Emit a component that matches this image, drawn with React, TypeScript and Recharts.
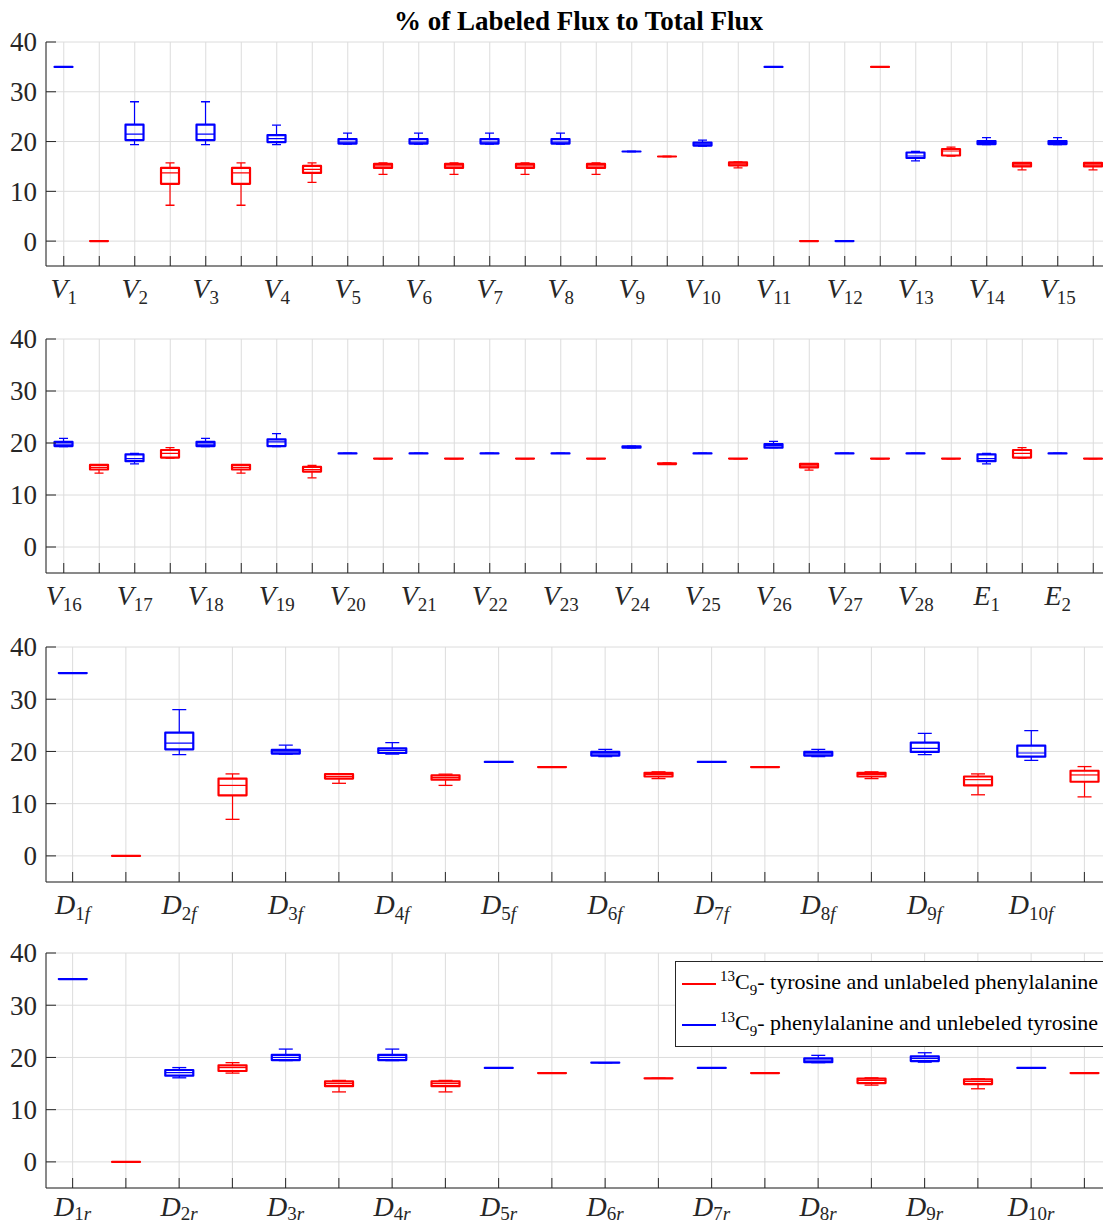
import { ComposedChart, Bar, XAxis, YAxis, CartesianGrid, Legend } from "recharts"

const BLUE = "#0000ff"
const RED = "#ff0000"
const INK = "#262626"
const GRID = "#dcdcdc"
const SERIF = '"Liberation Serif", "Times New Roman", serif'

const TITLE = "% of Labeled Flux to Total Flux"
const Y_TICKS = [0, 10, 20, 30, 40]
const Y_DOMAIN: [number, number] = [-5, 40]

// tick labels: first letter is the symbol, the rest goes into the subscript
const labels1 = ["V1", "V2", "V3", "V4", "V5", "V6", "V7", "V8", "V9", "V10", "V11", "V12", "V13", "V14", "V15"]
const labels2 = ["V16", "V17", "V18", "V19", "V20", "V21", "V22", "V23", "V24", "V25", "V26", "V27", "V28", "E1", "E2"]
const labels3 = ["D1f", "D2f", "D3f", "D4f", "D5f", "D6f", "D7f", "D8f", "D9f", "D10f"]
const labels4 = ["D1r", "D2r", "D3r", "D4r", "D5r", "D6r", "D7r", "D8r", "D9r", "D10r"]

// each box: [lower whisker, q1, median, q3, upper whisker]
const blue1 = [
  [35, 35, 35, 35, 35],
  [19.4, 20.3, 21.5, 23.4, 28],
  [19.4, 20.3, 21.5, 23.4, 28],
  [19.4, 19.9, 20.6, 21.3, 23.3],
  [19.5, 19.6, 19.9, 20.5, 21.7],
  [19.5, 19.6, 19.9, 20.5, 21.7],
  [19.5, 19.6, 19.9, 20.5, 21.7],
  [19.5, 19.6, 19.9, 20.5, 21.7],
  [18, 18, 18, 18, 18],
  [19.1, 19.2, 19.5, 19.8, 20.3],
  [35, 35, 35, 35, 35],
  [0, 0, 0, 0, 0],
  [16.1, 16.7, 17.1, 17.8, 18],
  [19.4, 19.5, 19.8, 20.1, 20.8],
  [19.4, 19.5, 19.8, 20.1, 20.8],
]
const red1 = [
  [0, 0, 0, 0, 0],
  [7.2, 11.5, 13.7, 14.7, 15.7],
  [7.2, 11.5, 13.7, 14.7, 15.7],
  [11.8, 13.7, 14.4, 15.1, 15.7],
  [13.4, 14.7, 15.1, 15.5, 15.7],
  [13.4, 14.7, 15.1, 15.5, 15.7],
  [13.4, 14.7, 15.1, 15.5, 15.7],
  [13.4, 14.7, 15.1, 15.5, 15.7],
  [17, 17, 17, 17, 17],
  [14.7, 15.2, 15.5, 15.8, 15.9],
  [0, 0, 0, 0, 0],
  [35, 35, 35, 35, 35],
  [17.1, 17.2, 18.1, 18.5, 18.9],
  [14.3, 15, 15.3, 15.7, 15.7],
  [14.3, 15, 15.3, 15.7, 15.7],
]

const blue2 = [
  [19.3, 19.4, 19.8, 20.2, 20.9],
  [16, 16.5, 17, 17.8, 18],
  [19.3, 19.4, 19.8, 20.2, 20.9],
  [19.3, 19.4, 20.2, 20.7, 21.8],
  [18, 18, 18, 18, 18],
  [18, 18, 18, 18, 18],
  [18, 18, 18, 18, 18],
  [18, 18, 18, 18, 18],
  [19.05, 19.1, 19.2, 19.35, 19.4],
  [18, 18, 18, 18, 18],
  [19.1, 19.1, 19.5, 19.8, 20.3],
  [18, 18, 18, 18, 18],
  [18, 18, 18, 18, 18],
  [16, 16.5, 17, 17.8, 18],
  [18, 18, 18, 18, 18],
]
const red2 = [
  [14.2, 14.9, 15.3, 15.8, 15.8],
  [17.1, 17.2, 18, 18.65, 19.1],
  [14.2, 14.9, 15.3, 15.8, 15.8],
  [13.3, 14.5, 14.9, 15.4, 15.7],
  [17, 17, 17, 17, 17],
  [17, 17, 17, 17, 17],
  [17, 17, 17, 17, 17],
  [17, 17, 17, 17, 17],
  [15.9, 15.95, 16, 16.1, 16.15],
  [17, 17, 17, 17, 17],
  [14.8, 15.3, 15.6, 16, 16],
  [17, 17, 17, 17, 17],
  [17, 17, 17, 17, 17],
  [17.1, 17.2, 18, 18.65, 19.1],
  [17, 17, 17, 17, 17],
]

const blue3 = [
  [35, 35, 35, 35, 35],
  [19.4, 20.4, 21.6, 23.6, 28],
  [19.5, 19.6, 19.9, 20.3, 21.2],
  [19.5, 19.7, 20.2, 20.6, 21.7],
  [18, 18, 18, 18, 18],
  [19, 19.2, 19.55, 19.9, 20.4],
  [18, 18, 18, 18, 18],
  [19, 19.2, 19.55, 19.9, 20.4],
  [19.4, 19.9, 20.6, 21.7, 23.45],
  [18.3, 19, 19.7, 21.1, 24],
]
const red3 = [
  [0, 0, 0, 0, 0],
  [7, 11.6, 13.5, 14.8, 15.7],
  [13.9, 14.8, 15.2, 15.65, 15.7],
  [13.5, 14.6, 15, 15.4, 15.65],
  [17, 17, 17, 17, 17],
  [14.8, 15.2, 15.6, 15.9, 16.1],
  [17, 17, 17, 17, 17],
  [14.8, 15.2, 15.6, 15.9, 16.1],
  [11.7, 13.5, 14.6, 15.2, 15.7],
  [11.3, 14.2, 15.5, 16.3, 17.1],
]

const blue4 = [
  [35, 35, 35, 35, 35],
  [16.1, 16.5, 17.1, 17.6, 18.06],
  [19.4, 19.5, 20, 20.5, 21.6],
  [19.4, 19.5, 20, 20.5, 21.6],
  [18, 18, 18, 18, 18],
  [19, 19, 19, 19, 19],
  [18, 18, 18, 18, 18],
  [19, 19.1, 19.5, 19.85, 20.4],
  [19.1, 19.3, 19.8, 20.2, 20.9],
  [18, 18, 18, 18, 18],
]
const red4 = [
  [0, 0, 0, 0, 0],
  [17, 17.4, 18.06, 18.5, 19],
  [13.4, 14.5, 15, 15.4, 15.6],
  [13.4, 14.5, 15, 15.4, 15.6],
  [17, 17, 17, 17, 17],
  [16, 16, 16, 16, 16],
  [17, 17, 17, 17, 17],
  [14.7, 15.1, 15.6, 15.95, 16.1],
  [14, 14.9, 15.4, 15.8, 15.9],
  [17, 17, 17, 17, 17],
]

const legendNames = ["- tyrosine and unlabeled phenylalanine", "- phenylalanine and unlebeled tyrosine"]
const legendColors = [RED, BLUE]

type Box = { pos: number; label: string; lo: number; q1: number; med: number; q3: number; hi: number; color: string }

function buildBoxes(labels: string[], blue: number[][], red: number[][]): Box[] {
  const out: Box[] = []
  labels.forEach((label, i) => {
    const b = blue[i]
    const r = red[i]
    out.push({ pos: 2 * i + 1, label, lo: b[0], q1: b[1], med: b[2], q3: b[3], hi: b[4], color: BLUE })
    out.push({ pos: 2 * i + 2, label: "", lo: r[0], q1: r[1], med: r[2], q3: r[3], hi: r[4], color: RED })
  })
  return out
}

// box drawn inside the bar that spans the whisker range
const BoxShape = (props: any) => {
  const { x, y, width, height, payload } = props
  const { lo, q1, med, q3, hi, color } = payload as Box
  const top = Math.min(y, y + height)
  const bottom = Math.max(y, y + height)
  const span = hi - lo
  const py = (v: number) => (span > 0 ? bottom - ((v - lo) / span) * (bottom - top) : top)
  const cx = x + width / 2
  const cap = width / 4
  const yq3 = py(q3)
  const yq1 = py(q1)
  return (
    <g>
      <line x1={cx} x2={cx} y1={py(hi)} y2={yq3} stroke={color} strokeWidth={1.2} />
      <line x1={cx} x2={cx} y1={yq1} y2={py(lo)} stroke={color} strokeWidth={1.2} />
      <line x1={cx - cap} x2={cx + cap} y1={py(hi)} y2={py(hi)} stroke={color} strokeWidth={1.3} />
      <line x1={cx - cap} x2={cx + cap} y1={py(lo)} y2={py(lo)} stroke={color} strokeWidth={1.3} />
      <path
        d={`M${x},${yq3}H${x + width}V${yq1}H${x}Z`}
        fill="none"
        stroke={color}
        strokeWidth={2.2}
        strokeLinejoin="round"
      />
      <line x1={x} x2={x + width} y1={py(med)} y2={py(med)} stroke={color} strokeWidth={1.2} />
    </g>
  )
}

const YTick = (props: any) => {
  const { x, y, payload } = props
  return (
    <text x={x - 9} y={y} dy="0.35em" textAnchor="end" fill={INK} style={{ fontFamily: SERIF, fontSize: 27 }}>
      {payload.value}
    </text>
  )
}

function makeXTick(data: Box[], lift: number) {
  return (props: any) => {
    const { x, y, payload } = props
    const entry = data.find((d) => d.pos === payload.value)
    if (!entry || !entry.label) return <g />
    const main = entry.label[0]
    const rest = entry.label.slice(1)
    const digits = rest.replace(/[a-z]/g, "")
    const suffix = rest.replace(/[0-9]/g, "")
    return (
      <text x={x} y={y + 32 - lift} textAnchor="middle" fill={INK} style={{ fontFamily: SERIF, fontSize: 28 }}>
        <tspan style={{ fontStyle: "italic" }}>{main}</tspan>
        <tspan style={{ fontSize: 19 }} dy={6 - lift / 2}>
          {digits}
        </tspan>
        {suffix ? <tspan style={{ fontSize: 19, fontStyle: "italic" }}>{suffix}</tspan> : null}
      </text>
    )
  }
}

const renderLegend = () => (
  <div
    style={{
      border: `1px solid ${INK}`,
      background: "#fff",
      padding: "1px 6px",
      width: 440,
      fontFamily: SERIF,
      fontSize: 22,
      color: "#000",
    }}
  >
    {legendNames.map((name, i) => (
      <div key={i} style={{ display: "flex", alignItems: "center", height: 41, whiteSpace: "nowrap" }}>
        <span style={{ display: "inline-block", width: 34, borderTop: `2px solid ${legendColors[i]}`, marginRight: 4 }} />
        <span>
          <sup style={{ fontSize: 15 }}>13</sup>C<sub style={{ fontSize: 15 }}>9</sub>
          {name}
        </span>
      </div>
    ))}
  </div>
)

type PanelProps = {
  data: Box[]
  top: number
  height: number
  marginTop: number
  plotHeight: number
  lift?: number
  legend?: boolean
}

function Panel({ data, top, height, marginTop, plotHeight, lift = 0, legend }: PanelProps) {
  return (
    <div style={{ position: "absolute", left: 0, top }}>
      <ComposedChart
        width={1120}
        height={height}
        data={data}
        margin={{ top: marginTop, right: 9, bottom: 0, left: 0 }}
        barCategoryGap="24%"
      >
        <CartesianGrid stroke={GRID} />
        <XAxis
          dataKey="pos"
          type="category"
          interval={0}
          height={height - marginTop - plotHeight}
          stroke={INK}
          tickSize={-10}
          tickMargin={10}
          tick={makeXTick(data, lift)}
        />
        <XAxis xAxisId="top" orientation="top" dataKey="pos" type="category" interval={0} height={0} stroke={INK} tickSize={-10} tick={false} />
        <YAxis
          domain={Y_DOMAIN}
          ticks={Y_TICKS}
          allowDataOverflow
          width={46}
          stroke={INK}
          tickSize={-10}
          tickMargin={10}
          tick={<YTick />}
        />
        <YAxis yAxisId="right" orientation="right" domain={Y_DOMAIN} ticks={Y_TICKS} allowDataOverflow width={0} stroke={INK} tickSize={-10} tick={false} />
        <Bar dataKey={(d: Box) => [d.lo, d.hi]} shape={BoxShape} isAnimationActive={false} />
        {legend ? (
          <Legend
            layout="vertical"
            align="center"
            verticalAlign="middle"
            content={renderLegend}
            wrapperStyle={{ left: 675, top: 31, width: 460 }}
          />
        ) : null}
      </ComposedChart>
    </div>
  )
}

export default function App() {
  const p1 = buildBoxes(labels1, blue1, red1)
  const p2 = buildBoxes(labels2, blue2, red2)
  const p3 = buildBoxes(labels3, blue3, red3)
  const p4 = buildBoxes(labels4, blue4, red4)
  return (
    <div style={{ position: "absolute", left: 0, top: 0, width: 1103, height: 1228, overflow: "hidden", background: "#fff" }}>
      <div
        style={{
          position: "absolute",
          left: 46,
          width: 1065,
          top: 8,
          textAlign: "center",
          fontFamily: SERIF,
          fontWeight: "bold",
          fontSize: 27,
          lineHeight: "27px",
          color: "#000",
        }}
      >
        {TITLE}
      </div>
      <Panel data={p1} top={0} height={310} marginTop={42} plotHeight={224} />
      <Panel data={p2} top={310} height={310} marginTop={29} plotHeight={234} />
      <Panel data={p3} top={620} height={310} marginTop={27} plotHeight={235} />
      <Panel data={p4} top={930} height={298} marginTop={23} plotHeight={235} lift={4} legend />
    </div>
  )
}
